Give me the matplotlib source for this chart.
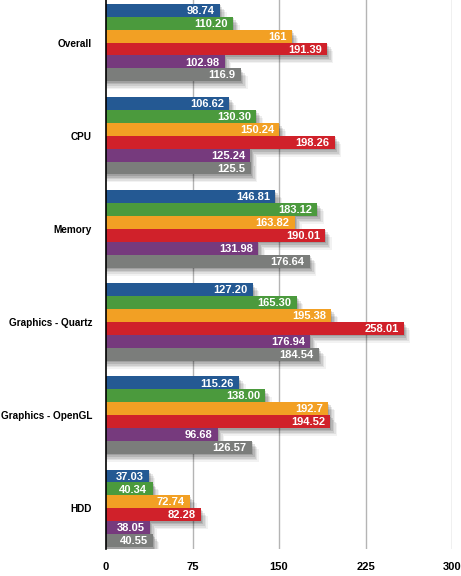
import numpy as np
import matplotlib
matplotlib.use("Agg")
import matplotlib.pyplot as plt

categories = ["Overall", "CPU", "Memory", "Graphics - Quartz", "Graphics - OpenGL", "HDD"]
series_colors = ["#245993", "#4b9a3d", "#f2a024", "#d0212a", "#763a7d", "#7b7d7b"]

# one list per series (6 series, in order top to bottom within a group)
s1 = [98.74, 106.62, 146.81, 127.20, 115.26, 37.03]
s2 = [110.20, 130.30, 183.12, 165.30, 138.00, 40.34]
s3 = [161, 150.24, 163.82, 195.38, 192.7, 72.74]
s4 = [191.39, 198.26, 190.01, 258.01, 194.52, 82.28]
s5 = [102.98, 125.24, 131.98, 176.94, 96.68, 38.05]
s6 = [116.9, 125.5, 176.64, 184.54, 126.57, 40.55]

s1_txt = ["98.74", "106.62", "146.81", "127.20", "115.26", "37.03"]
s2_txt = ["110.20", "130.30", "183.12", "165.30", "138.00", "40.34"]
s3_txt = ["161", "150.24", "163.82", "195.38", "192.7", "72.74"]
s4_txt = ["191.39", "198.26", "190.01", "258.01", "194.52", "82.28"]
s5_txt = ["102.98", "125.24", "131.98", "176.94", "96.68", "38.05"]
s6_txt = ["116.9", "125.5", "176.64", "184.54", "126.57", "40.55"]

xticks = [0, 75, 150, 225, 300]

series = [s1, s2, s3, s4, s5, s6]
texts = [s1_txt, s2_txt, s3_txt, s4_txt, s5_txt, s6_txt]

plt.rcParams['font.family'] = ['Liberation Sans', 'DejaVu Sans']

fig = plt.figure(figsize=(4.61, 5.76), dpi=100)
ax = fig.add_axes([106/461, 1 - 549/576, 346/461, 549/576])

gap = 7.22
base = np.arange(len(categories)) * gap

# vertical grid
for t in xticks[1:]:
    ax.axvline(t, color="#b4b4b4", lw=1, zorder=0)

for k, (vals, col) in enumerate(zip(series, series_colors)):
    y = base + k + 0.5
    # soft shadow: several layers with growing offset
    for dx, dy, a in [(1.0, 0.12, 0.12), (2.2, 0.25, 0.11), (3.4, 0.38, 0.09), (4.6, 0.5, 0.07), (5.8, 0.62, 0.05)]:
        ax.barh(y + dy, np.array(vals) + dx, height=1.0, color="black", alpha=a, lw=0, zorder=1)
    ax.barh(y, vals, height=1.0, color=col, lw=0, zorder=2)
    for yy, v, s in zip(y, vals, texts[k]):
        ax.text(v - 4.5, yy + 0.05, s, ha="right", va="center", color="white",
                fontsize=8, fontweight="bold", zorder=3)

ax.set_xlim(0, 300)
ax.set_ylim(-0.3 + 549/12.9, -0.3)
ax.set_yticks(base + 3)
ax.set_yticklabels(categories, fontsize=7.2, fontweight="bold")
ax.set_xticks(xticks)
ax.set_xticklabels([str(t) for t in xticks], fontsize=8, fontweight="bold")
ax.tick_params(axis="both", length=0)
ax.tick_params(axis="y", pad=10)
ax.tick_params(axis="x", pad=9)
for sp in ["top", "right", "bottom"]:
    ax.spines[sp].set_visible(False)
ax.spines["left"].set_color("black")
ax.spines["left"].set_linewidth(1.2)

fig.savefig("out.png", dpi=100)
